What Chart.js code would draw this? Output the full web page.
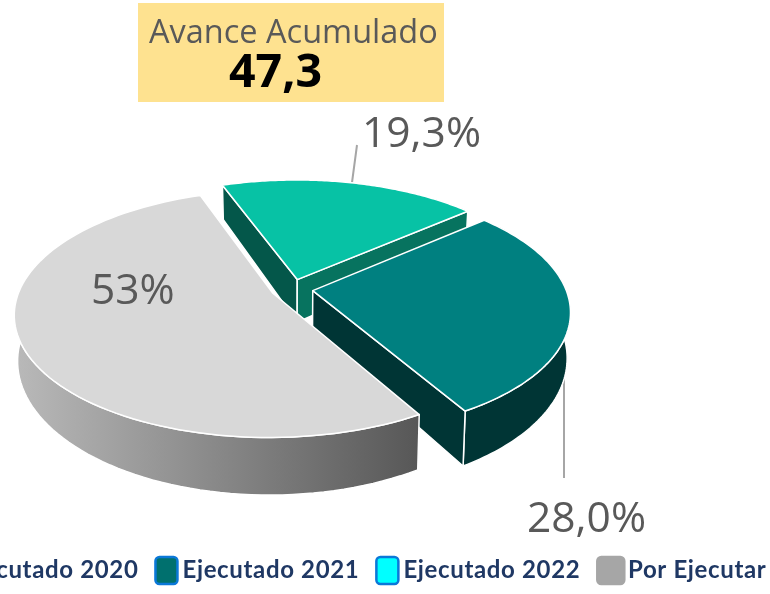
<!DOCTYPE html>
<html><head><meta charset="utf-8">
<script src="https://cdn.jsdelivr.net/npm/chart.js@4"></script>
<style>
html,body{margin:0;padding:0;background:#fff;width:770px;height:594px;overflow:hidden}
#wrap{position:absolute;left:-100px;top:0;width:900px;height:594px}
</style></head><body>
<div id="wrap"><canvas id="c" width="900" height="594"></canvas></div>
<script>
const categories = ["Ejecutado 2020","Ejecutado 2021","Ejecutado 2022","\u2009Por Ejecutar"];
const values = [19.3, 28.0, 0, 53];
const valueLabels = ["19,3%","28,0%","","53%"];
const topColors = ["#07C2A5","#008080","#00FFFF","#D8D8D8"];
const startWallColors = ["#04574A","#003535","#00AAAA","#8A8A8A"];
const endWallColors = ["#07735F","#003535","#00AAAA","#8A8A8A"];
const legendFill = ["#07C2A5","#00706E","#00FFFF","#A6A6A6"];
const legendEdge = ["#0B78D8","#0B78D8","#0B78D8","#A6A6A6"];
const swatchWidth = [22, 22, 22, 27];
const boxTitle = "Avance Acumulado";
const boxValue = "47,3";

const PAGE_X = 100;                 // canvas is shifted left so the legend runs off the page
const PIE = {x: 292 + PAGE_X, y: 289, tilt: 0.47, persp: 0.165, depth: 43.5, shrink: 0.988};

function project(X, Z, low, R) {
  const w = 1 / (1 - PIE.persp * Z);
  let x = R * X * w, y = R * PIE.tilt * Z * w;
  if (low) { x *= PIE.shrink; y += PIE.depth * Math.pow(w, 1.5); }
  return [PIE.x + x, PIE.y + y];
}
function pathOf(ctx, pts) {
  ctx.beginPath();
  pts.forEach((p, i) => i ? ctx.lineTo(p[0], p[1]) : ctx.moveTo(p[0], p[1]));
  ctx.closePath();
}
function paint(ctx, pts, fill) {
  pathOf(ctx, pts);
  ctx.fillStyle = fill; ctx.fill();
  ctx.strokeStyle = "#FFFFFF"; ctx.lineWidth = 1.5; ctx.lineJoin = "round"; ctx.stroke();
}
function signedArea(pts) {
  let s = 0;
  pts.forEach((p, i) => { const q = pts[(i + 1) % pts.length]; s += p[0] * q[1] - q[0] * p[1]; });
  return s;
}
const pie3d = {
  id: "pie3d",
  beforeLayout(chart) { chart.ctx.letterSpacing = "0.65px"; },
  beforeDraw(chart) { chart.ctx.letterSpacing = "0.65px"; },
  beforeDatasetDraw(chart) {
    const ctx = chart.ctx;
    const arcs = chart.getDatasetMeta(0).data;
    ctx.save();
    ctx.letterSpacing = "0px";
    // leader lines sit behind the pie
    ctx.strokeStyle = "#A6A6A6"; ctx.lineWidth = 2;
    ctx.beginPath();
    ctx.moveTo(351 + PAGE_X, 190); ctx.lineTo(357 + PAGE_X, 145);
    ctx.moveTo(564 + PAGE_X, 350); ctx.lineTo(564 + PAGE_X, 478);
    ctx.stroke();
    arcs.forEach((arc, i) => {
      const a0 = arc.startAngle, a1 = arc.endAngle;
      if (a1 - a0 <= 0) return;
      const R = arc.outerRadius;
      const mid = (a0 + a1) / 2, e = arc.options.offset / R;
      const ox = e * Math.cos(mid), oz = e * Math.sin(mid);
      const rim = low => {
        const out = [];
        for (let k = 0; k <= 96; k++) {
          const a = a0 + (a1 - a0) * k / 96;
          out.push(project(ox + Math.cos(a), oz + Math.sin(a), low, R));
        }
        return out;
      };
      const apexT = project(ox, oz, false, R), apexB = project(ox, oz, true, R);
      const topRim = rim(false), lowRim = rim(true);
      // curved outer wall
      let wall = startWallColors[i];
      if (i === 3) {
        wall = ctx.createLinearGradient(20 + PAGE_X, 0, 420 + PAGE_X, 0);
        wall.addColorStop(0, "#B8B8B8");
        wall.addColorStop(1, "#575757");
      }
      paint(ctx, topRim.concat(lowRim.slice().reverse()), wall);
      // straight side walls, only where they face the viewer
      const startWall = [apexT, topRim[0], lowRim[0], apexB];
      const endWall = [apexT, topRim[96], lowRim[96], apexB];
      if (signedArea(startWall) < 0) paint(ctx, startWall, startWallColors[i]);
      if (signedArea(endWall) > 0) paint(ctx, endWall, endWallColors[i]);
      // top face
      paint(ctx, [apexT].concat(topRim), arc.options.backgroundColor);
    });
    ctx.restore();
    return false;
  },
  afterDraw(chart) {
    const ctx = chart.ctx;
    ctx.save();
    ctx.letterSpacing = "0px";
    // legend swatches, placed from the legend's own item boxes
    chart.legend.legendHitBoxes.forEach((h, i) => {
      const hh = 27, top = h.top + h.height / 2 - hh / 2;
      ctx.beginPath();
      ctx.roundRect(h.left + 1, top, swatchWidth[i], hh, 4);
      ctx.fillStyle = legendFill[i]; ctx.fill();
      ctx.strokeStyle = legendEdge[i]; ctx.lineWidth = 2.5; ctx.stroke();
    });
    ctx.fillStyle = "#FEE290";
    ctx.fillRect(138 + PAGE_X, 3, 306, 99);
    ctx.textBaseline = "alphabetic"; ctx.textAlign = "left";
    ctx.fillStyle = "#595959";
    ctx.font = '32.5px "Open Sans"';
    ctx.fillText(boxTitle, 149 + PAGE_X, 43);
    ctx.fillStyle = "#000000";
    ctx.font = 'bold 46.5px "Open Sans"';
    ctx.fillText(boxValue, 229 + PAGE_X, 87);
    ctx.fillStyle = "#595959";
    ctx.font = '42.5px "Open Sans"';
    ctx.fillText(valueLabels[0], 362 + PAGE_X, 147);
    ctx.fillText(valueLabels[1], 527 + PAGE_X, 532);
    ctx.fillText(valueLabels[3], 91 + PAGE_X, 304);
    ctx.restore();
  }
};
new Chart(document.getElementById("c"), {
  type: "pie",
  data: {
    labels: categories,
    datasets: [{
      data: values,
      backgroundColor: topColors,
      borderWidth: 0,
      offset: 21,
      radius: 253
    }]
  },
  options: {
    responsive: false,
    animation: false,
    rotation: -20,
    plugins: {
      tooltip: {enabled: false},
      legend: {
        position: "bottom",
        align: "center",
        labels: {
          boxWidth: 16, boxHeight: 27, padding: 16,
          color: "#1F3864",
          font: {family: "Lato", weight: "bold", size: 24},
          generateLabels() {
            return categories.map((t, i) => ({
              text: t, fillStyle: "rgba(0,0,0,0)", strokeStyle: "rgba(0,0,0,0)",
              fontColor: "#1F3864",
              lineWidth: 0, index: i, hidden: false
            }));
          }
        }
      }
    }
  },
  plugins: [pie3d]
});
</script>
</body></html>
